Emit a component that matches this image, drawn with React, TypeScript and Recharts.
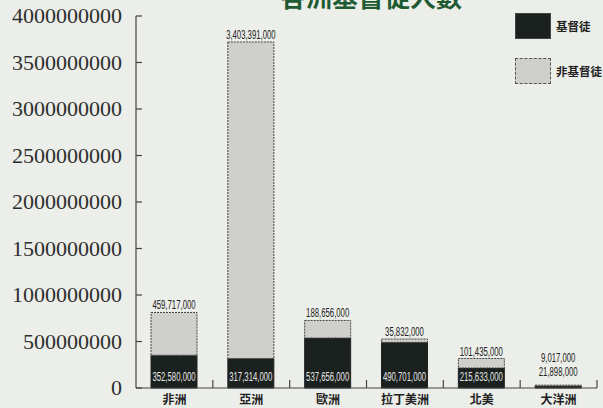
import { Bar, BarChart, LabelList, XAxis, YAxis } from 'recharts'

const continents = ['非洲', '亞洲', '歐洲', '拉丁美洲', '北美', '大洋洲']
const christians = [352580000, 317314000, 537656000, 490701000, 215633000, 21898000]
const nonChristians = [459717000, 3403391000, 188656000, 35832000, 101435000, 9017000]
const yTicks = [0, 500000000, 1000000000, 1500000000, 2000000000, 2500000000, 3000000000, 3500000000, 4000000000]

const data = continents.map((name, i) => ({ name, christian: christians[i], other: nonChristians[i] }))

const DARK = '#1b211e'
const LIGHT = '#cfd0cb'
const PAPER = '#eceee9'
const sans = "'Liberation Sans', Arial, sans-serif"
const cjk = "'Noto Sans CJK TC', 'Noto Sans CJK SC', sans-serif"
const fmt = (v: number) => v.toLocaleString('en-US')

// squeeze the numbers like the condensed face in the original
const squeeze = (s: string) => {
  const commas = s.split(',').length - 1
  return (s.length - commas) * 4.4 + commas * 1.8
}

function ValueText({ x, y, s, fill }: { x: number; y: number; s: string; fill: string }) {
  return (
    <text x={x} y={y} textAnchor="middle" fontFamily={sans} fontSize={12.5} fill={fill} textLength={squeeze(s)} lengthAdjust="spacingAndGlyphs">
      {s}
    </text>
  )
}

function YTick({ x, y, payload }: any) {
  return (
    <g>
      <line x1={x} x2={x + 6} y1={y} y2={y} stroke="#444" strokeWidth={1.2} />
      <text x={x - 14} y={y + 7} textAnchor="end" fontFamily="'Liberation Serif', serif" fontSize={22} fill="#2e2e2e">
        {payload.value}
      </text>
    </g>
  )
}

// plot width / categories, used only to put the divider ticks between bars
const HALF_BAND = 461 / 6 / 2

function XTick({ x, y, payload }: any) {
  return (
    <g>
      <line x1={x + HALF_BAND} x2={x + HALF_BAND} y1={y - 8} y2={y} stroke="#444" strokeWidth={1.2} />
      <text x={x} y={y + 16} textAnchor="middle" fontFamily={cjk} fontWeight="bold" fontSize={12} fill="#222">
        {payload.value}
      </text>
    </g>
  )
}

function ChristianLabel({ x, y, width, height, value }: any) {
  if (height < 16) return <ValueText x={x + width / 2} y={y - 10} s={fmt(value)} fill="#222" />
  return <ValueText x={x + width / 2} y={y + height - 7.5} s={fmt(value)} fill="#e6e6e6" />
}

function OtherLabel({ x, y, width, height, value, index }: any) {
  const christianPx = (christians[index] * height) / value
  const lift = christianPx < 16 ? 23 : 3
  return <ValueText x={x + width / 2} y={y - lift} s={fmt(value)} fill="#222" />
}

function LegendBox() {
  const row = (fill: string, label: string, top: number, dashed: boolean) => (
    <div style={{ position: 'absolute', left: 0, top, display: 'flex', alignItems: 'center' }}>
      <div
        style={{
          width: 36,
          height: 26,
          background: fill,
          border: dashed ? '1px dashed #555' : '1px solid #444',
          boxSizing: 'border-box'
        }}
      />
      <span style={{ marginLeft: 5, fontFamily: cjk, fontWeight: 'bold', fontSize: 11.5, color: '#222', whiteSpace: 'nowrap' }}>
        {label}
      </span>
    </div>
  )
  return (
    <div style={{ position: 'absolute', left: 515, top: 13, width: 88, height: 80 }}>
      {row(DARK, '基督徒', 0, false)}
      {row(LIGHT, '非基督徒', 45, true)}
    </div>
  )
}

export default function App() {
  return (
    <div style={{ position: 'absolute', left: 0, top: 0, width: 603, height: 408, background: PAPER, overflow: 'hidden' }}>
      <BarChart width={603} height={408} data={data} margin={{ top: 16, right: 6, bottom: 0, left: 0 }} barSize={46}>
        <XAxis
          dataKey="name"
          height={20}
          axisLine={{ stroke: '#444', strokeWidth: 1.2 }}
          tickLine={false}
          tickSize={0}
          tickMargin={0}
          tick={<XTick />}
          interval={0}
        />
        <YAxis
          width={136}
          domain={[0, 4000000000]}
          ticks={yTicks}
          axisLine={{ stroke: '#444', strokeWidth: 1.2 }}
          tickLine={false}
          tickSize={0}
          tickMargin={0}
          tick={<YTick />}
        />
        <Bar dataKey="christian" stackId="a" fill={DARK} stroke="#222" strokeWidth={1} isAnimationActive={false}>
          <LabelList dataKey="christian" content={<ChristianLabel />} />
        </Bar>
        <Bar dataKey="other" stackId="a" fill={LIGHT} stroke="#444" strokeWidth={1} strokeDasharray="2 1" isAnimationActive={false}>
          <LabelList dataKey="other" content={<OtherLabel />} />
        </Bar>
      </BarChart>
      <div
        style={{
          position: 'absolute',
          left: 280,
          top: -19,
          width: 182,
          textAlign: 'center',
          fontFamily: cjk,
          fontWeight: 'bold',
          fontSize: 26,
          color: '#1f5a32',
          whiteSpace: 'nowrap',
          lineHeight: '30px'
        }}
      >
        各洲基督徒人數
      </div>
      <LegendBox />
    </div>
  )
}
